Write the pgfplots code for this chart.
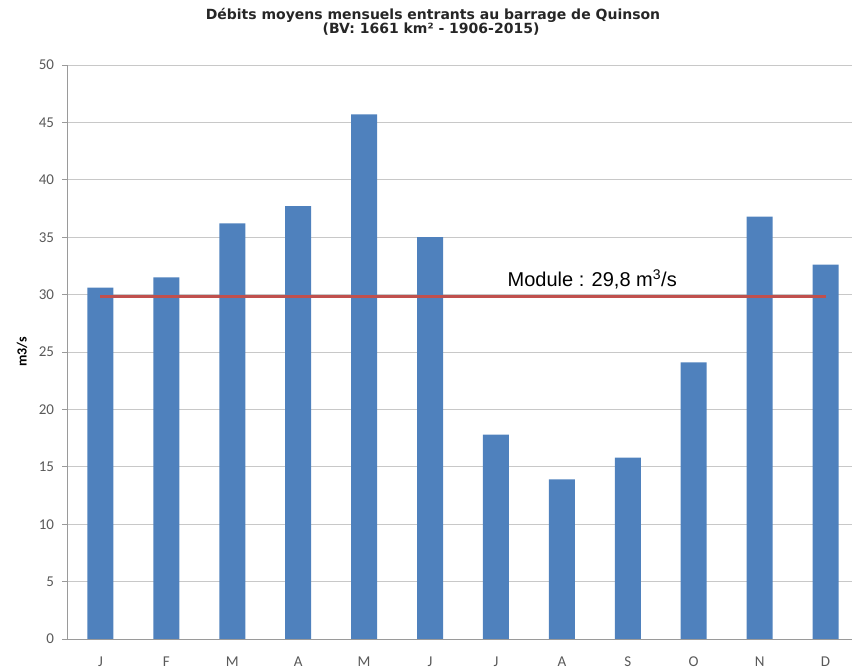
\documentclass[border=0pt]{standalone}
\usepackage{pgfplots}
\pgfplotsset{compat=1.18}
\usepackage{fontspec}
\setmainfont{Carlito}
\newfontfamily\titlefont{DejaVu Sans}
\newfontfamily\arialfont{Liberation Sans}
\definecolor{barblue}{HTML}{4F81BD}
\definecolor{linered}{HTML}{C0504D}
\definecolor{ticklab}{HTML}{595959}
\definecolor{gridc}{HTML}{C8C8C8}
\definecolor{axisc}{HTML}{9A9A9A}
\begin{document}
\begin{tikzpicture}
\begin{axis}[
  at={(0,0)}, anchor=south west,
  scale only axis, width=791pt, height=574pt,
  xmin=-0.5, xmax=11.5, ymin=0, ymax=50,
  axis x line=bottom, axis y line=left,
  x axis line style={-, axisc, line width=0.9pt},
  y axis line style={-, axisc, line width=0.9pt},
  ytick={0,5,...,50},
  ymajorgrids, grid style={gridc, line width=0.9pt},
  xtick={0,...,11},
  xticklabels={J,F,M,A,M,J,J,A,S,O,N,D},
  xtick style={draw=none},
  ytick style={axisc, line width=0.9pt},
  tick align=outside, major tick length=5pt,
  extra x ticks={-0.5,0.5,...,11.5},
  extra x tick labels={},
  extra x tick style={xtick style={axisc, line width=0.9pt}, major tick length=5pt},
  /pgf/number format/assume math mode=true,
  ticklabel style={font=\fontsize{15}{17}\selectfont, text=ticklab},
  xticklabel style={yshift=-9pt},
  yticklabel style={xshift=-5pt},
  clip=false,
]
\addplot[ybar, bar width=26pt, fill=barblue, draw=none] coordinates {
  (0,30.6) (1,31.5) (2,36.2) (3,37.7) (4,45.7) (5,35.0)
  (6,17.8) (7,13.9) (8,15.8) (9,24.1) (10,36.8) (11,32.6)
};
\addplot[linered, line width=3pt] coordinates {(0,29.8) (11,29.8)};
\node[anchor=base, font=\arialfont\fontsize{20}{24}\selectfont] at (axis cs:7.46,30.7) {Module : 29,8 m\textsuperscript{3}/s};
\node[rotate=90, font=\bfseries\fontsize{14}{16}\selectfont, text=black] at ([xshift=-45.5pt]axis description cs:0,0.5) {m3/s};
\end{axis}
\node[anchor=base, font=\titlefont\bfseries\fontsize{14}{16}\selectfont, text=black!85] at (365.5pt,619pt) {Débits moyens mensuels entrants au barrage de Quinson};
\node[anchor=base, font=\titlefont\bfseries\fontsize{14}{16}\selectfont, text=black!85] at (363.5pt,605pt) {(BV: 1661 km² - 1906-2015)};
\pgfresetboundingbox
\path[use as bounding box] (-67.5pt,-30.5pt) rectangle (784.5pt,639pt);
\end{tikzpicture}
\end{document}
